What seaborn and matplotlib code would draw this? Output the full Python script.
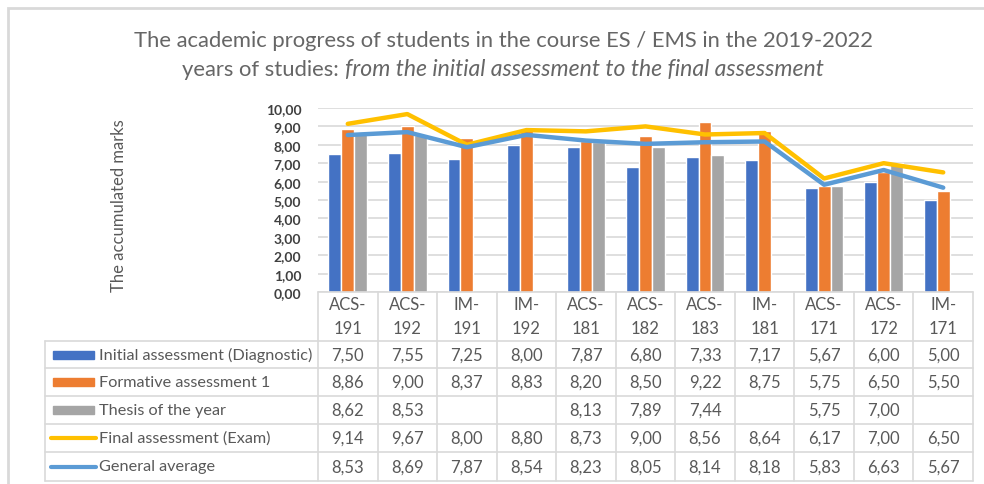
import numpy as np
import pandas as pd
import matplotlib
matplotlib.use("Agg")
import matplotlib.pyplot as plt
import matplotlib.transforms as mtransforms
from matplotlib.lines import Line2D
from matplotlib.patches import Rectangle
import seaborn as sns

groups = ['ACS-191', 'ACS-192', 'IM-191', 'IM-192', 'ACS-181', 'ACS-182',
          'ACS-183', 'IM-181', 'ACS-171', 'ACS-172', 'IM-171']
initial = [7.50, 7.55, 7.25, 8.00, 7.87, 6.80, 7.33, 7.17, 5.67, 6.00, 5.00]
formative = [8.86, 9.00, 8.37, 8.83, 8.20, 8.50, 9.22, 8.75, 5.75, 6.50, 5.50]
thesis = [8.62, 8.53, np.nan, np.nan, 8.13, 7.89, 7.44, np.nan, 5.75, 7.00, np.nan]
final_exam = [9.14, 9.67, 8.00, 8.80, 8.73, 9.00, 8.56, 8.64, 6.17, 7.00, 6.50]
general_avg = [8.53, 8.69, 7.87, 8.54, 8.23, 8.05, 8.14, 8.18, 5.83, 6.63, 5.67]

bar_series = ['Initial assessment (Diagnostic)', 'Formative assessment 1', 'Thesis of the year']
line_series = ['Final assessment (Exam)', 'General average']
colors = {'Initial assessment (Diagnostic)': '#4472C4',
          'Formative assessment 1': '#ED7D31',
          'Thesis of the year': '#A5A5A5',
          'Final assessment (Exam)': '#FFC000',
          'General average': '#5B9BD5'}

bar_values = [initial, formative, thesis]
line_values = [final_exam, general_avg]

rows = []
for name, vals in zip(bar_series, bar_values):
    for g, v in zip(groups, vals):
        rows.append({'Group': g, 'Mark': v, 'Series': name})
df_bars = pd.DataFrame(rows)

sns.set_theme(style="white")
plt.rcParams['font.family'] = ['Lato', 'DejaVu Sans']
TXT = '#595959'
GRID = '#D9D9D9'

W, H = 984, 485
fig = plt.figure(figsize=(W / 100, H / 100), dpi=100)

def fx(px):
    return px / W

def fy(py):
    return 1 - py / H

ax = fig.add_axes([fx(318), fy(293), fx(973) - fx(318), fy(109) - fy(293)])

sns.barplot(data=df_bars, x='Group', y='Mark', hue='Series', hue_order=bar_series,
            palette=colors, width=0.65, gap=0, saturation=1, legend=False, ax=ax,
            zorder=2)

for name, vals in zip(line_series, line_values):
    sns.lineplot(x=groups, y=vals, color=colors[name], linewidth=3.2, sort=False,
                 ax=ax, zorder=3)

ax.set_ylim(0, 10)
ax.set_xlim(-0.5, len(groups) - 0.5)
ax.set_yticks(np.arange(0, 11, 1))
ax.set_yticklabels([f"{v:.2f}".replace('.', ',') for v in np.arange(0, 11, 1)],
                   fontsize=10, color='#404040', fontweight='bold')
ax.tick_params(axis='y', length=0, pad=12)
ax.set_xticks([])
ax.set_xlabel('')
ax.set_ylabel('')
ax.grid(axis='y', color=GRID, linewidth=1.2, zorder=0)
ax.set_axisbelow(True)
for s in ax.spines.values():
    s.set_visible(False)

# y axis title
fig.text(fx(119), fy(206), 'The accumulated marks', rotation=90, ha='center',
         va='center', fontsize=12, color=TXT)

# title: normal + italic part on the second line
TCOL = '#666666'
fig.text(fx(504), fy(41), 'The academic progress of students in the course ES / EMS in the 2019-2022',
         ha='center', va='center', fontsize=15.8, color=TCOL)
fig.canvas.draw()
r = fig.canvas.get_renderer()
p1 = fig.text(0, fy(70), 'years of studies: ', ha='left', va='center', fontsize=15.8,
              color=TCOL)
p2 = fig.text(0, fy(70), 'from the initial assessment to the final assessment',
              ha='left', va='center', fontsize=16.6, color=TCOL, style='italic')
w1 = p1.get_window_extent(r).width
w2 = p2.get_window_extent(r).width
x0 = 503 - (w1 + w2) / 2
p1.set_x(fx(x0))
p2.set_x(fx(x0 + w1))

# data table below the axis
trans = mtransforms.blended_transform_factory(ax.transData, fig.transFigure)
row_edges = [342, 369, 397, 425, 453, 482]
lkw = dict(color=GRID, linewidth=1.2, clip_on=False)

fig.add_artist(Line2D([fx(318), fx(973)], [fy(293), fy(293)], transform=fig.transFigure, **lkw))
for i in range(len(groups) + 1):
    fig.add_artist(Line2D([i - 0.5, i - 0.5], [fy(293), fy(482)], transform=trans, **lkw))
for ye in row_edges:
    fig.add_artist(Line2D([fx(45), fx(973)], [fy(ye), fy(ye)], transform=fig.transFigure, **lkw))
fig.add_artist(Line2D([fx(45), fx(45)], [fy(342), fy(482)], transform=fig.transFigure, **lkw))

for i, g in enumerate(groups):
    a, b = g.split('-')
    fig.text(i, fy(305), a + '-', transform=trans, ha='center', va='center',
             fontsize=12, color=TXT)
    fig.text(i, fy(329), b, transform=trans, ha='center', va='center',
             fontsize=12, color=TXT)

all_names = bar_series + line_series
all_vals = bar_values + line_values
for k, (name, vals) in enumerate(zip(all_names, all_vals)):
    yc = (row_edges[k] + row_edges[k + 1]) / 2
    if name in bar_series:
        fig.add_artist(Rectangle((fx(53), fy(yc + 4)), fx(94) - fx(53), fy(yc - 4) - fy(yc + 4),
                                 transform=fig.transFigure, color=colors[name]))
    else:
        fig.add_artist(Line2D([fx(51), fx(96)], [fy(yc), fy(yc)], transform=fig.transFigure,
                              color=colors[name], linewidth=3, solid_capstyle='round'))
    fig.text(fx(99), fy(yc), name, ha='left', va='center', fontsize=11.7, color=TXT)
    for i, v in enumerate(vals):
        if not np.isnan(v):
            fig.text(i, fy(yc), f"{v:.2f}".replace('.', ','), transform=trans,
                     ha='center', va='center', fontsize=12, color=TXT)

# chart frame
fig.add_artist(Rectangle((fx(8), fy(500)), fx(1000) - fx(8), fy(9) - fy(500),
                         transform=fig.transFigure, fill=False, edgecolor=GRID, linewidth=2))

fig.savefig('out.png', dpi=100)
